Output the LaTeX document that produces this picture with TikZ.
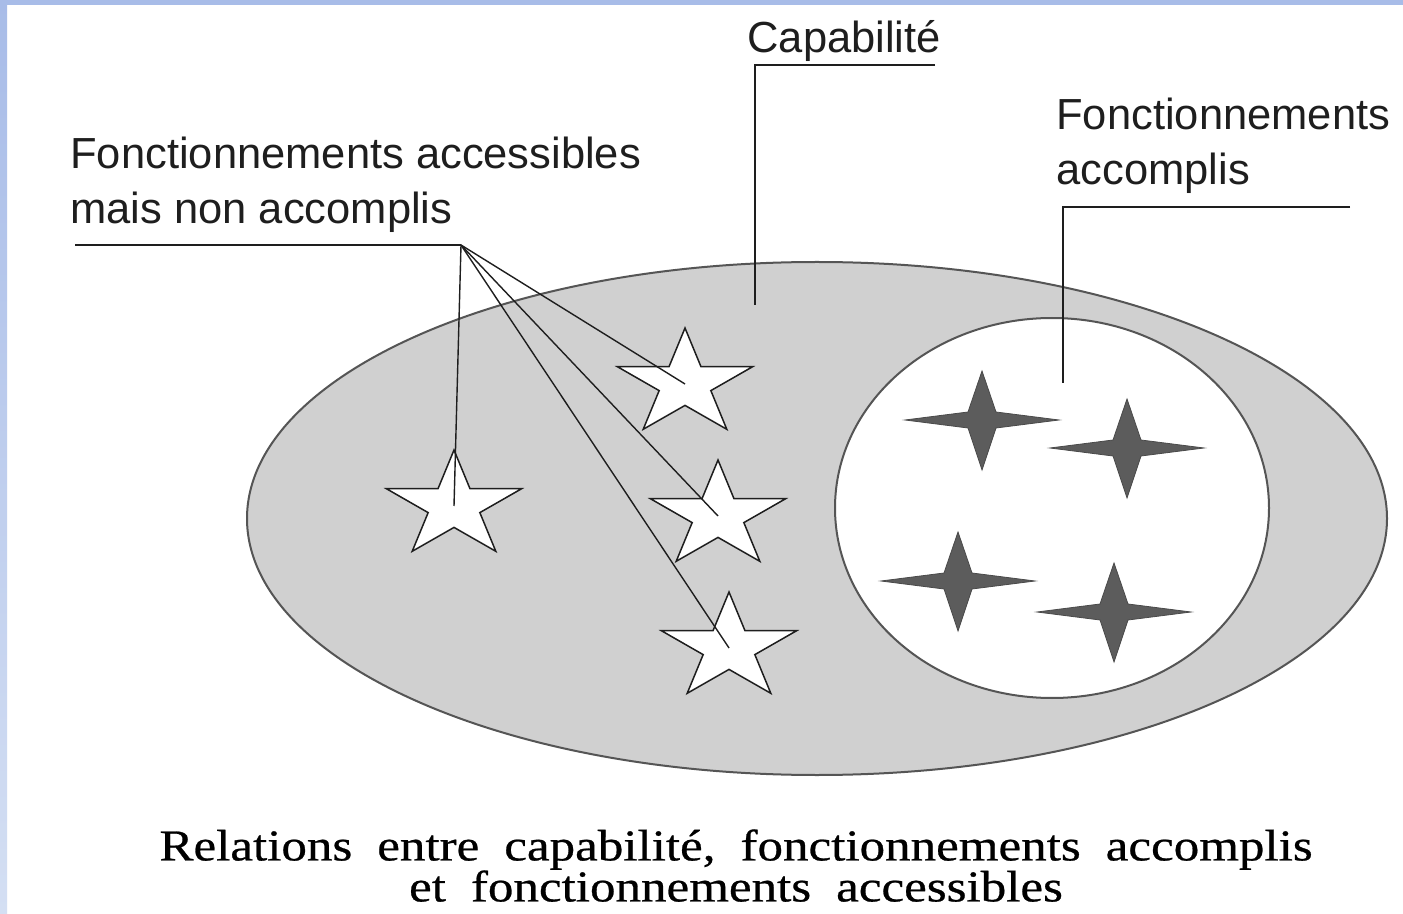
\documentclass[tikz,border=0pt]{standalone}
\usepackage{fontspec}
\setmainfont{Liberation Sans}
\newfontfamily\capfont[FakeStretch=1.16,FakeBold=0.6]{Liberation Serif}
\usetikzlibrary{shapes.geometric}
\definecolor{bordtop}{HTML}{A8BCE8}
\definecolor{bordbot}{HTML}{D4DFF3}
\definecolor{capgray}{HTML}{D0D0D0}
\definecolor{edgegray}{HTML}{555555}
\definecolor{inkgray}{HTML}{1E1E1E}
\definecolor{darkstar}{HTML}{5C5C5C}
\begin{document}
\begin{tikzpicture}[x=0.5pt,y=-0.5pt,
  lab/.style={font=\fontsize{21.75}{27.5}\selectfont, text=inkgray, inner sep=0pt, align=left},
  leader/.style={draw=inkgray, line width=0.7pt},
  region/.style={ellipse, draw=edgegray, line width=1pt, inner sep=0pt},
  openstar/.pic={\draw[draw=inkgray, fill=white, line width=0.75pt, line join=miter]
     (270:56) -- (306:21.4) -- (342:56) -- (18:21.4) -- (54:56) -- (90:21.4)
     -- (126:56) -- (162:21.4) -- (198:56) -- (234:21.4) -- cycle;},
  fourstar/.pic={\draw[draw=darkstar!80!black, fill=darkstar, line width=0.4pt]
     (0,-49) -- (14,-8) -- (77,0) -- (14,8) -- (0,50) -- (-14,8) -- (-77,0) -- (-14,-8) -- cycle;}
]
\useasboundingbox (0,0) rectangle (1403,914);
\fill[white] (0,0) rectangle (1403,914);
\shade[top color=bordtop, bottom color=bordbot] (0,0) rectangle (7,914);
\fill[bordtop] (0,0) rectangle (1403,5);

% regions
\node[region, fill=capgray, minimum width=570pt, minimum height=256.5pt] (cap) at (817,518.5) {};
\node[region, fill=white, minimum width=217pt, minimum height=190pt] (acc) at (1052,508) {};

% accessible (white) stars
\coordinate (s1) at (454,506);
\coordinate (s2) at (685,384);
\coordinate (s3) at (718,516);
\coordinate (s4) at (729,648);
\pic[xscale=1.27] at (s1) {openstar};
\pic[xscale=1.27] at (s2) {openstar};
\pic[xscale=1.27] at (s3) {openstar};
\pic[xscale=1.27] at (s4) {openstar};

% achieved (dark) stars
\pic at (982,420) {fourstar};
\pic at (1127,448) {fourstar};
\pic at (958,581) {fourstar};
\pic at (1114,612) {fourstar};

% labels
\node[lab, anchor=north west] (nacl) at (70,137) {Fonctionnements accessibles\\mais non accomplis};
\node[lab, anchor=base west] (capl) at (747,53) {Capabilité};
\node[lab, anchor=north west] (accl) at (1056,98) {Fonctionnements\\accomplis};

% leaders
\coordinate (capA) at (935,65);
\coordinate (capB) at (755,65);
\coordinate (capC) at (755,305);
\draw[leader] (capA) -- (capB) -- (capC);

\coordinate (acA) at (1350,207);
\coordinate (acB) at (1063,207);
\coordinate (acC) at (1063,383);
\draw[leader] (acA) -- (acB) -- (acC);

\coordinate (naA) at (75,245);
\coordinate (apex) at (461,245);
\draw[leader] (naA) -- (apex);
\draw[leader] (apex) -- (s1);
\draw[leader] (apex) -- (s2);
\draw[leader] (apex) -- (s3);
\draw[leader] (apex) -- (s4);

% caption
\node[font={\capfont\fontsize{22}{20.5}\selectfont\spaceskip=12.5pt\relax\lineskiplimit=-20pt},
      align=center, anchor=north, inner sep=0pt, text=black] (caption) at (736,829)
  {Relations entre capabilité, fonctionnements accomplis\\et fonctionnements accessibles};
\end{tikzpicture}
\end{document}
